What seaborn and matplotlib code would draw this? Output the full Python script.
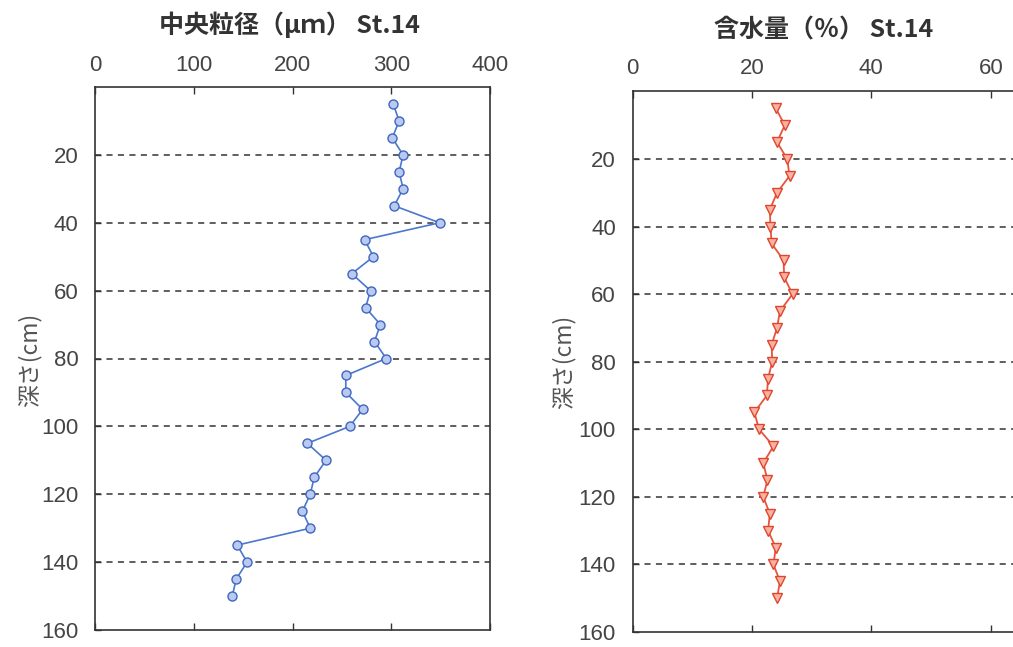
import matplotlib
matplotlib.use("Agg")
import matplotlib.pyplot as plt
import pandas as pd
import seaborn as sns

# Core St.14: sampled every 5 cm
depth_cm = [5, 10, 15, 20, 25, 30, 35, 40, 45, 50, 55, 60, 65, 70, 75,
            80, 85, 90, 95, 100, 105, 110, 115, 120, 125, 130, 135, 140, 145, 150]
median_grain_um = [302, 308, 301, 312, 308, 312, 303, 349, 273, 282, 260, 279, 274, 289, 283,
                   295, 254, 254, 271, 258, 215, 234, 222, 218, 210, 218, 144, 154, 143, 139]
water_content_pct = [24.0, 25.5, 24.2, 25.9, 26.3, 24.2, 23.0, 23.1, 23.3, 25.3, 25.4, 26.8, 24.7, 24.2, 23.3,
                     23.4, 22.7, 22.5, 20.4, 21.2, 23.6, 21.9, 22.6, 21.9, 23.0, 22.7, 24.0, 23.6, 24.7, 24.2]

grain_ticks = [0, 100, 200, 300, 400]
water_ticks = [0, 20, 40, 60]
depth_ticks = [20, 40, 60, 80, 100, 120, 140, 160]

title_grain = "中央粒径（μｍ） St.14"
title_water = "含水量（％） St.14"
depth_label = "深さ(cm)"

sns.set_style("white")
plt.rcParams["font.family"] = ["Liberation Sans", "Noto Sans CJK JP", "DejaVu Sans"]

df = pd.DataFrame({"depth": depth_cm, "grain": median_grain_um, "water": water_content_pct})

W, H = 1013, 647
fig = plt.figure(figsize=(W / 100, H / 100), dpi=100)
fig.patch.set_facecolor("white")

ax1 = fig.add_axes([95 / W, 1 - 630 / H, (490 - 95) / W, (630 - 87) / H])
ax2 = fig.add_axes([632.5 / W, 1 - 632 / H, 418 / W, (632 - 91.4) / H])

sns.lineplot(data=df, x="grain", y="depth", orient="y", estimator=None, ax=ax1,
             color="#4a78cc", lw=1.2, marker="o", markersize=6.5,
             markerfacecolor="#b9c9ef", markeredgecolor="#3f66c2", markeredgewidth=1.0)
sns.lineplot(data=df, x="water", y="depth", orient="y", estimator=None, ax=ax2,
             color="#e5553d", lw=1.3, marker="v", markersize=7.5,
             markerfacecolor="#f6b3a4", markeredgecolor="#e2452b", markeredgewidth=1.0)

for ax, xlim, xticks, xpad in ((ax1, (0, 400), grain_ticks, 8), (ax2, (0, 70), water_ticks, 9)):
    ax.set_xlim(*xlim)
    ax.set_ylim(160, 0)
    ax.set_xticks(xticks)
    ax.set_yticks(depth_ticks)
    ax.set_xlabel("")
    ax.set_ylabel("")
    ax.tick_params(axis="x", top=True, bottom=True, labeltop=True, labelbottom=False,
                   direction="in", length=5, width=1, color="#333333",
                   labelsize=16, labelcolor="#444444", pad=xpad)
    ax.tick_params(axis="y", left=True, right=False, direction="in", length=4, width=1,
                   color="#333333", labelsize=16, labelcolor="#444444", pad=12)
    for s in ax.spines.values():
        s.set_color("#333333")
        s.set_linewidth(1.2)
    for d in depth_ticks[:-1]:
        ax.axhline(d, color="#333333", lw=1.1, ls=(0, (4, 3.5)), zorder=0)

fig.text(289 / W, 1 - 25 / H, title_grain, ha="center", va="center",
         fontsize=18, fontweight="bold", color="#333333",
         family=["Noto Sans CJK JP", "DejaVu Sans"])
fig.text(824 / W, 1 - 31 / H, title_water, ha="center", va="center",
         fontsize=18, fontweight="bold", color="#333333",
         family=["Noto Sans CJK JP", "DejaVu Sans"])

fig.text(30 / W, 1 - 360 / H, depth_label, rotation=90, ha="center", va="center",
         fontsize=16.5, color="#555555", family=["Noto Sans CJK JP", "DejaVu Sans"])
fig.text(564 / W, 1 - 362 / H, depth_label, rotation=90, ha="center", va="center",
         fontsize=16.5, color="#555555", family=["Noto Sans CJK JP", "DejaVu Sans"])

fig.savefig("out.png", dpi=100, facecolor="white")
